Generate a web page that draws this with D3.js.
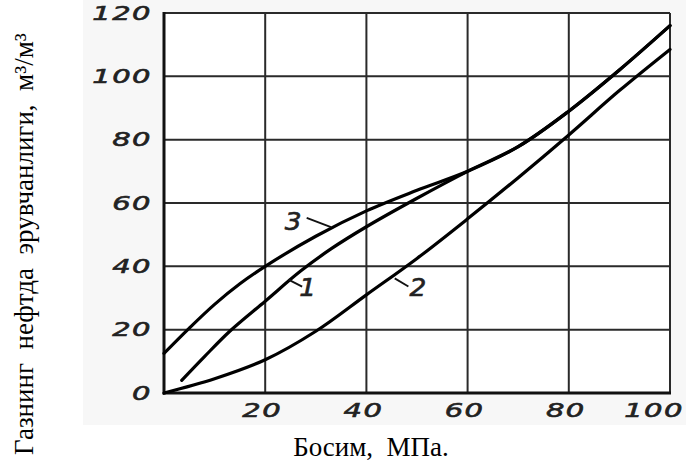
<!DOCTYPE html>
<html>
<head>
<meta charset="utf-8">
<script src="https://cdn.jsdelivr.net/npm/d3@7/dist/d3.min.js"></script>
<style>
  html, body { margin: 0; padding: 0; background: #ffffff; }
  svg { display: block; }
  .tick-label { font-family: "DejaVu Sans", sans-serif; font-style: italic; fill: #222; stroke: #222; stroke-width: 0.6px; }
  .title { font-family: "Liberation Serif", "Times New Roman", serif; fill: #000; white-space: pre; }
</style>
</head>
<body>
<svg id="chart" width="686" height="464"></svg>
<script>
// ---- data ----
const xTicks = [20, 40, 60, 80, 100];
const yTicks = [0, 20, 40, 60, 80, 100, 120];

const pressure1 = [3.5, 8, 13, 20, 27, 33, 40, 50, 60, 70, 80, 90, 100];
const gas1      = [4, 11.5, 19.5, 29, 38.5, 45.5, 52.5, 61.5, 70, 77.8, 89, 102, 116];

const pressure2 = [0, 10, 20, 30, 40, 50, 60, 70, 80, 90, 100];
const gas2      = [0, 4.5, 10.5, 19.5, 31, 42.5, 55, 68, 81.5, 95.5, 108.5];

const pressure3 = [0, 5, 10, 15, 20, 30, 40, 50, 60, 70, 80, 90, 100];
const gas3      = [12.5, 20.5, 28, 34.5, 40, 49.5, 57.5, 64, 70, 77.8, 89, 102, 116];

const curveNames = ["1", "2", "3"];
// label anchor (data units) and leader line ends (data units)
const labelX  = [28.4, 50.2, 25.5];
const labelY  = [33.2, 33.2, 54.0];
const leadX0  = [24.6, 45.6, 28.2];
const leadY0  = [35.8, 36.2, 55.3];
const leadX1  = [27.3, 48.3, 33.0];
const leadY1  = [33.6, 33.6, 52.4];

const xTitle = "Босим,  МПа.";
const yTitle = "Газнинг  нефтда  эрувчанлиги,  м³/м³";

// ---- drawing ----
const svg = d3.select("#chart");
const W = 686, H = 464;

const x = d3.scaleLinear().domain([0, 100]).range([164, 670]);
const y = d3.scaleLinear().domain([0, 120]).range([393, 13]);

// faint scan background
svg.append("rect").attr("x", 83).attr("y", 0).attr("width", W - 83).attr("height", 425)
  .attr("fill", "#f7f7f7");
svg.append("rect").attr("x", x(0)).attr("y", y(120)).attr("width", x(100) - x(0)).attr("height", y(0) - y(120))
  .attr("fill", "#ffffff");

// grid lines
const grid = svg.append("g").attr("stroke", "#2a2a2a").attr("stroke-width", 2);
grid.selectAll("line.v").data(xTicks).enter().append("line")
  .attr("x1", d => x(d)).attr("x2", d => x(d))
  .attr("y1", y(0)).attr("y2", y(120));
grid.selectAll("line.h").data(yTicks.filter(d => d > 0)).enter().append("line")
  .attr("x1", x(0)).attr("x2", x(100))
  .attr("y1", d => y(d)).attr("y2", d => y(d));

// axes (frame)
svg.append("line").attr("x1", x(0)).attr("x2", x(0)).attr("y1", y(120) - 1).attr("y2", y(0) + 1.5)
  .attr("stroke", "#111").attr("stroke-width", 3);
svg.append("line").attr("x1", x(0) - 1).attr("x2", x(100) + 1).attr("y1", y(0)).attr("y2", y(0))
  .attr("stroke", "#111").attr("stroke-width", 3);

// y tick labels
svg.selectAll("text.yt").data(yTicks).enter().append("text")
  .attr("class", "tick-label")
  .attr("font-size", 20)
  .attr("text-anchor", "end")
  .attr("dominant-baseline", "central")
  .attr("transform", d => `translate(152,${y(d)}) scale(1.45,1)`)
  .attr("letter-spacing", 1)
  .text(d => d);

// x tick labels
svg.selectAll("text.xt").data(xTicks).enter().append("text")
  .attr("class", "tick-label")
  .attr("font-size", 20)
  .attr("text-anchor", "middle")
  .attr("dominant-baseline", "central")
  .attr("transform", d => `translate(${x(d) - (d === 100 ? 16 : 3)},${y(0) + 17}) scale(1.45,1)`)
  .attr("letter-spacing", 1)
  .text(d => d);

// curves
const line = d3.line().x(d => x(d[0])).y(d => y(d[1])).curve(d3.curveCatmullRom.alpha(0.5));
const series = [
  d3.zip(pressure1, gas1),
  d3.zip(pressure2, gas2),
  d3.zip(pressure3, gas3)
];
svg.selectAll("path.curve").data(series).enter().append("path")
  .attr("class", "curve")
  .attr("d", line)
  .attr("fill", "none")
  .attr("stroke", "#000")
  .attr("stroke-width", 3.2)
  .attr("stroke-linecap", "round");

// curve labels and leaders
curveNames.forEach((n, i) => {
  svg.append("line")
    .attr("x1", x(leadX0[i])).attr("y1", y(leadY0[i]))
    .attr("x2", x(leadX1[i])).attr("y2", y(leadY1[i]))
    .attr("stroke", "#111").attr("stroke-width", 1.8);
  svg.append("text")
    .attr("class", "tick-label")
    .attr("font-size", 24)
    .attr("text-anchor", "middle")
    .attr("dominant-baseline", "central")
    .attr("transform", `translate(${x(labelX[i])},${y(labelY[i])}) scale(1.1,1)`)
    .text(n);
});

// axis titles
svg.append("text").attr("class", "title")
  .attr("x", 371).attr("y", 456)
  .attr("font-size", 27)
  .attr("text-anchor", "middle")
  .text(xTitle);

svg.append("text").attr("class", "title")
  .attr("transform", "translate(33,244) rotate(-90)")
  .attr("font-size", 27)
  .attr("text-anchor", "middle")
  .text(yTitle);
</script>
</body>
</html>
